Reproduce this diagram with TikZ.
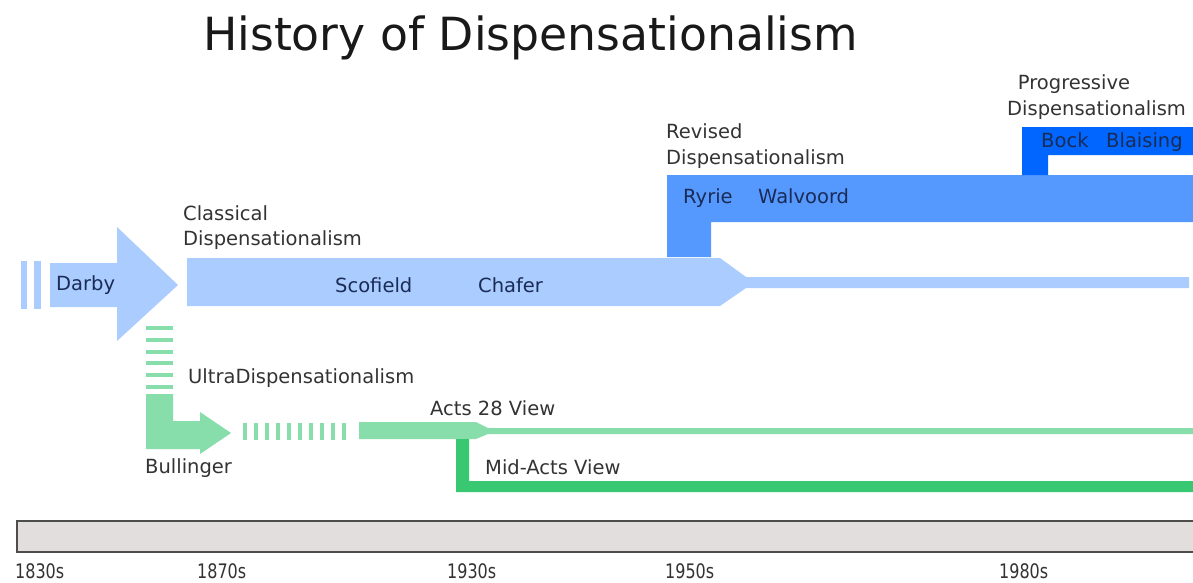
\documentclass[tikz,border=0pt]{standalone}
\usepackage{fontspec}
\setmainfont{DejaVu Sans}
\newfontfamily\yearfont[FakeStretch=0.8]{DejaVu Sans}
\definecolor{classic}{HTML}{AACCFF}
\definecolor{revised}{HTML}{5599FF}
\definecolor{progr}{HTML}{0066FF}
\definecolor{ultra}{HTML}{87DEAA}
\definecolor{midacts}{HTML}{37C871}
\definecolor{tlfill}{HTML}{E3DEDE}
\definecolor{tlline}{HTML}{4D4D4D}
\definecolor{lbl}{HTML}{333333}
\definecolor{inbar}{HTML}{1A2B55}
\begin{document}
\begin{tikzpicture}[x=1pt,y=-1pt,
  lab/.style={anchor=base west,inner sep=0pt,text=lbl,font=\fontsize{19.5}{23}\selectfont},
  barlab/.style={lab,text=inbar},
  year/.style={anchor=base west,inner sep=0pt,text=lbl,font=\yearfont\fontsize{20}{23}\selectfont}]
\useasboundingbox[fill=white] (0,0) rectangle (1193,582);
\clip (0,0) rectangle (1193,582);
% title
\node[anchor=base west,inner sep=0pt,text=black!90,font=\fontsize{45.7}{50}\selectfont] (title) at (203,50) {History of Dispensationalism};
% Darby
\fill[classic] (21,261) rectangle (27,309);
\fill[classic] (34,261) rectangle (41,309);
\fill[classic] (50,263) -- (117,263) -- (117,227) -- (178,285) -- (117,341) -- (117,307) -- (50,307) -- cycle;
% Classical
\fill[classic] (187,258) -- (720,258) -- (746,277) -- (1189,277) -- (1189,288) -- (746,288) -- (720,306) -- (187,306) -- cycle;
% Revised
\fill[revised] (667,257) -- (667,175) -- (1193,175) -- (1193,222) -- (711,222) -- (711,257) -- cycle;
% Progressive
\fill[progr] (1022,175) -- (1022,127) -- (1193,127) -- (1193,155) -- (1048,155) -- (1048,175) -- cycle;
% Ultra dispensationalism stripes
\foreach \yy in {326,338,350,361,373,385}
  \fill[ultra] (146,\yy) rectangle (173,\yy+3.5);
\fill[ultra] (146,394) -- (173,394) -- (173,421) -- (200,421) -- (200,412) -- (231,433) -- (200,454) -- (200,449) -- (146,449) -- cycle;
\foreach \xx in {243,254,265,276,287,298,309,320,331,342}
  \fill[ultra] (\xx,423) rectangle (\xx+4,440);
% Acts 28
\fill[ultra] (359,422) -- (476,422) -- (488,428) -- (1193,428) -- (1193,434) -- (488,434) -- (476,439) -- (359,439) -- cycle;
% Mid-Acts
\fill[midacts] (456,439) -- (469,439) -- (469,481) -- (1193,481) -- (1193,492) -- (456,492) -- cycle;
% labels
\node[lab] (classical1) at (183,220) {Classical};
\node[lab] (classical2) at (183,245) {Dispensationalism};
\node[barlab] (darby) at (56,290) {Darby};
\node[barlab] (scofield) at (335,292) {Scofield};
\node[barlab] (chafer) at (478,292) {Chafer};
\node[lab] (revised1) at (666,138) {Revised};
\node[lab] (revised2) at (666,164) {Dispensationalism};
\node[barlab] (ryrie) at (683,203) {Ryrie};
\node[barlab] (walvoord) at (758,203) {Walvoord};
\node[lab,anchor=base] (prog1) at (1074,89) {Progressive};
\node[lab] (prog2) at (1007,115) {Dispensationalism};
\node[barlab] (bock) at (1041,147) {Bock};
\node[barlab] (blaising) at (1106,147) {Blaising};
\node[lab] (ultra) at (188,383) {UltraDispensationalism};
\node[lab] (bullinger) at (145,473) {Bullinger};
\node[lab] (acts28) at (430,415) {Acts 28 View};
\node[lab] (midacts) at (485,474) {Mid-Acts View};
% timeline
\draw[tlline,line width=2pt,fill=tlfill] (17,521) rectangle (1205,552);
\node[year] (y1830) at (15,578) {1830s};
\node[year] (y1870) at (197,578) {1870s};
\node[year] (y1930) at (447,578) {1930s};
\node[year] (y1950) at (665,578) {1950s};
\node[year] (y1980) at (999,578) {1980s};
\end{tikzpicture}
\end{document}
